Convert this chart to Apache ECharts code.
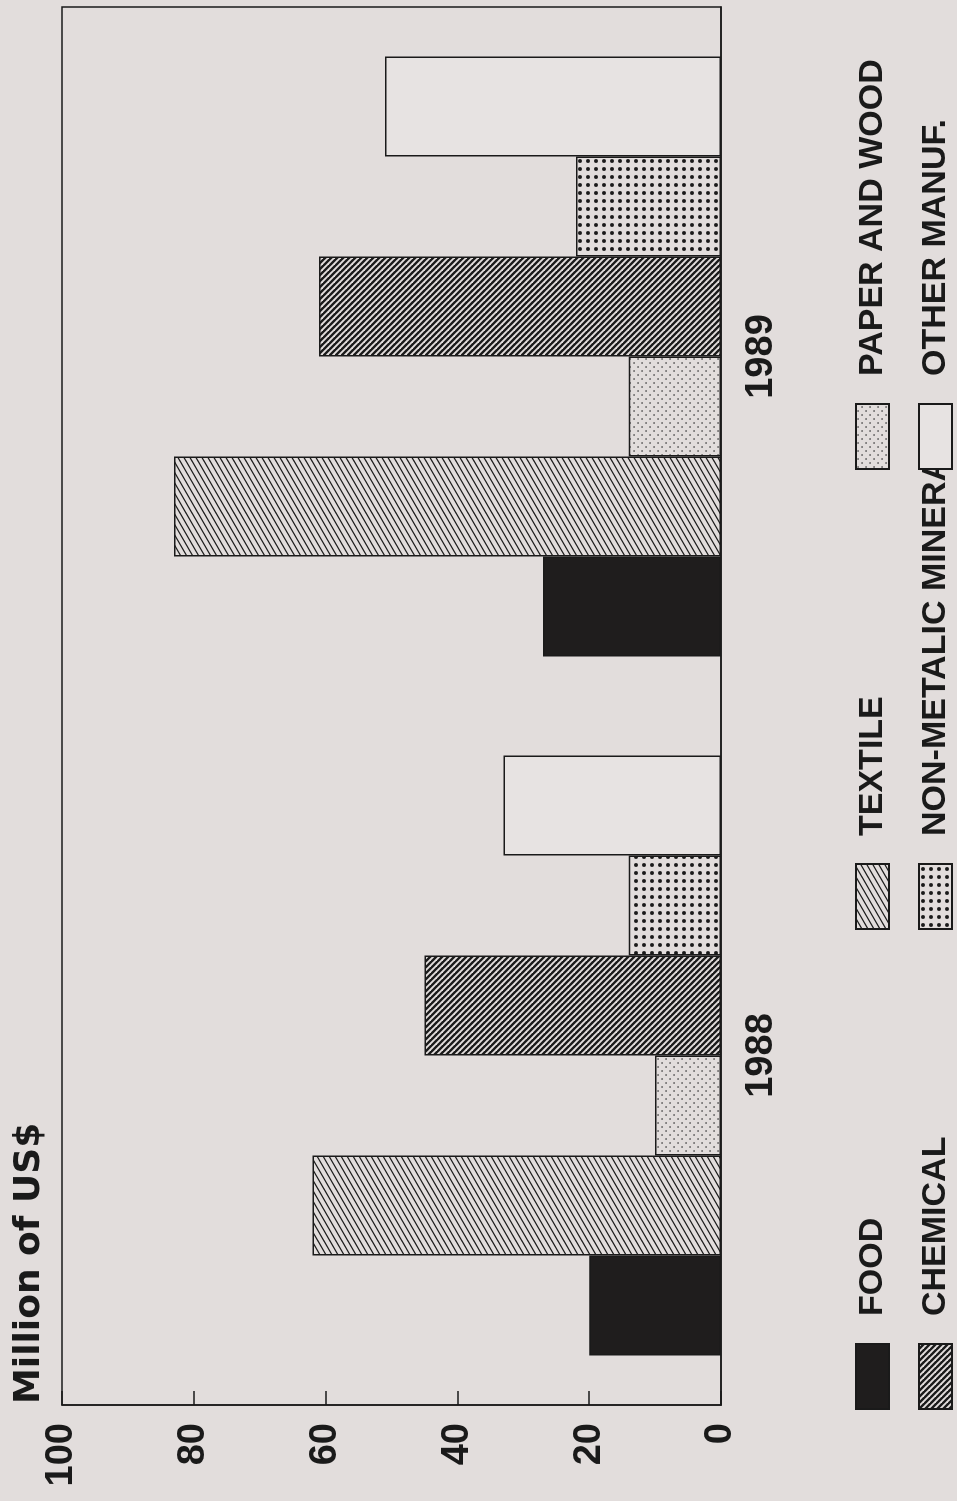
<!DOCTYPE html>
<html><head><meta charset="utf-8">
<script src="https://cdn.jsdelivr.net/npm/echarts@6/dist/echarts.min.js"></script>
<style>
html,body{margin:0;padding:0;width:957px;height:1501px;overflow:hidden;background:#e2dddc;}
#chart{position:absolute;left:0;top:0;width:1501px;height:957px;transform-origin:0 0;transform:translate(0,1501px) rotate(-90deg);}
</style></head><body><div id="chart"></div>
<script>
// ---- data ----
const categories = ['1988', '1989'];
const seriesNames = ['FOOD', 'TEXTILE', 'PAPER AND WOOD', 'CHEMICAL', 'NON-METALIC MINERALS', 'OTHER MANUF.'];
const food = [20, 27];
const textile = [62, 83];
const paperWood = [10, 14];
const chemical = [45, 61];
const nonMetalic = [14, 22];
const otherManuf = [33, 51];
const valueMin = 0, valueMax = 100, valueStep = 20;
const titleText = 'Million of US$';

// ---- styles ----
const BG = '#e2dddc';
const INK = '#1a1a1a';
const FONT = '"Liberation Sans", Arial, sans-serif';

function tile(w, h, draw) {
  const c = document.createElement('canvas');
  c.width = w; c.height = h;
  const g = c.getContext('2d');
  g.fillStyle = BG; g.fillRect(0, 0, w, h);
  draw(g);
  return { image: c, repeat: 'repeat' };
}
// textile: thin lines, 30deg (appears steep after rotation)
const textilePat = tile(52, 6, g => {
  g.strokeStyle = INK; g.lineWidth = 1.2;
  for (let k = -2; k <= 8; k++) {
    const c = k * 6;
    g.beginPath(); g.moveTo(-2, c + 2 * 30 / 52); g.lineTo(54, c - 54 * 30 / 52); g.stroke();
  }
});
// chemical: denser thick 45deg lines
const chemPat = tile(6, 6, g => {
  g.strokeStyle = INK; g.lineWidth = 2.3;
  for (let k = -2; k <= 2; k++) {
    g.beginPath(); g.moveTo(-2, k * 6 - 2); g.lineTo(8, k * 6 + 8); g.stroke();
  }
});
const nonMetPat = tile(8, 8, g => {
  g.fillStyle = INK;
  g.beginPath(); g.arc(4, 4, 2.0, 0, Math.PI * 2); g.fill();
});
const paperPat = tile(8, 8, g => {
  g.fillStyle = '#3a3a3a';
  g.beginPath(); g.arc(2, 2, 0.85, 0, Math.PI * 2); g.fill();
  g.beginPath(); g.arc(6, 6, 0.85, 0, Math.PI * 2); g.fill();
});

const fills = ['#1f1d1d', textilePat, paperPat, chemPat, nonMetPat, '#e7e3e2'];
const values = [food, textile, paperWood, chemical, nonMetalic, otherManuf];

const legLeft = [91, 571, 1031, 91, 571, 1031];
const legTop = [855, 855, 855, 918, 918, 918];

const chart = echarts.init(document.getElementById('chart'), null, { renderer: 'canvas' });
chart.setOption({
  animation: false,
  backgroundColor: BG,
  title: {
    text: titleText, left: 97, top: 12, padding: 0,
    textStyle: { fontFamily: '"DejaVu Sans", sans-serif', fontWeight: 'bold', fontSize: 36, color: INK }
  },
  grid: { left: 96, right: 7, top: 62, bottom: 236, show: true, borderColor: INK, borderWidth: 1.5, backgroundColor: 'transparent', containLabel: false },
  xAxis: {
    type: 'category', data: categories,
    axisLine: { show: true, lineStyle: { color: INK, width: 1.5 } },
    axisTick: { show: false },
    axisLabel: { fontFamily: FONT, fontWeight: 'bold', fontSize: 38, color: INK, margin: 22 }
  },
  yAxis: {
    type: 'value', min: valueMin, max: valueMax, interval: valueStep,
    splitLine: { show: false },
    axisLine: { show: true, lineStyle: { color: INK, width: 1.5 } },
    axisTick: { show: true, inside: true, length: 14, lineStyle: { color: INK, width: 1.5 } },
    axisLabel: { fontFamily: FONT, fontWeight: 'bold', fontSize: 38, color: INK, margin: 18 }
  },
  legend: seriesNames.map((n, i) => ({
    data: [n], left: legLeft[i], top: legTop[i], padding: 0,
    itemWidth: 65, itemHeight: 33, icon: 'rect', selectedMode: false,
    textStyle: { fontFamily: FONT, fontWeight: 'bold', fontSize: 34, color: INK, padding: [0, 0, 0, 23] }
  })),
  series: seriesNames.map((n, i) => ({
    name: n, type: 'bar', data: values[i],
    barWidth: 100, barGap: '0%',
    itemStyle: { color: fills[i], borderColor: INK, borderWidth: 1.5 },
    emphasis: { disabled: true }
  }))
});
</script></body></html>
